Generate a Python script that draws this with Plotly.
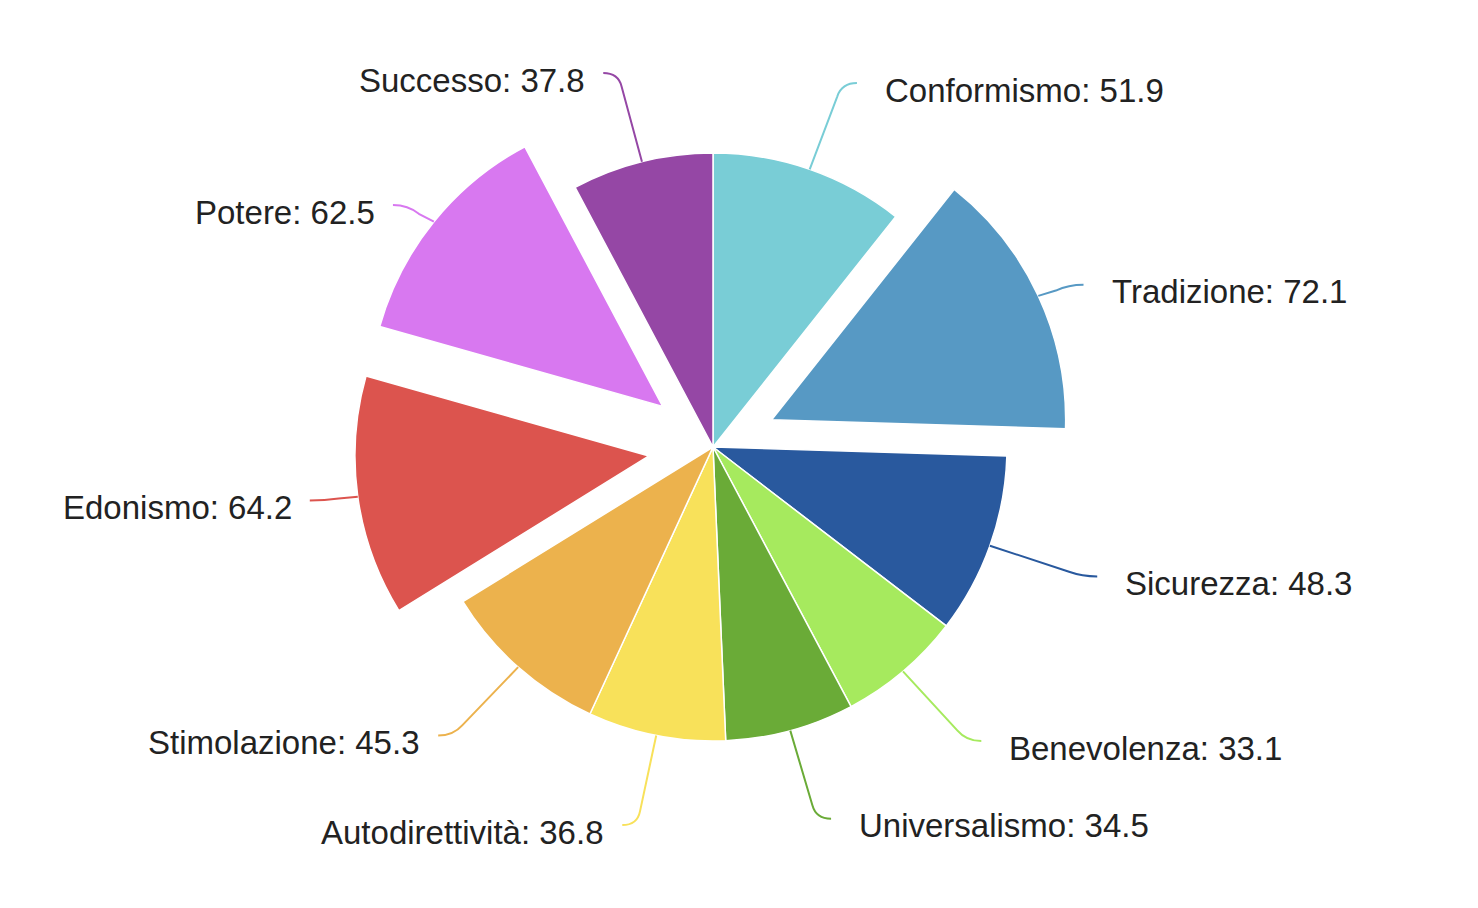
import math
import plotly.graph_objects as go

labels = ["Conformismo", "Tradizione", "Sicurezza", "Benevolenza", "Universalismo",
          "Autodirettività", "Stimolazione", "Edonismo", "Potere", "Successo"]
values = [51.9, 72.1, 48.3, 33.1, 34.5, 36.8, 45.3, 64.2, 62.5, 37.8]
colors = ["#79CDD6", "#5799C4", "#29599E", "#A6EA5E", "#6AAB37",
          "#F8E15A", "#ECB24D", "#DC544E", "#D878F0", "#9547A5"]
pulls = [0, 0.22, 0, 0, 0, 0, 0, 0.22, 0.22, 0]

W, H = 1478, 908
CX, CY, R = 705, 439, 294          # desired pie centre / radius in figure pixels
max_pull = max(pulls)
box = R * (2 + 2 * max_pull)
dom_y = [1 - (CY + box / 2) / H, 1 - (CY - box / 2) / H]
dom_x = [(CX - 450) / W, (CX + 450) / W]

fig = go.Figure(go.Pie(
    labels=labels, values=values, sort=False, direction="clockwise", rotation=0,
    pull=pulls, textinfo="none", hoverinfo="label+value",
    marker=dict(colors=colors, line=dict(color="white", width=1.5)),
    domain=dict(x=dom_x, y=dom_y), showlegend=False,
))

def px(x):
    return x / W

def py(y):
    return 1 - y / H

total = sum(values)
cum = 0.0
shapes, annots = [], []
R2 = R + 98
for lab, v, col, p in zip(labels, values, colors, pulls):
    mid = (cum + v / 2) / total * 2 * math.pi
    cum += v
    dx, dy = math.sin(mid), -math.cos(mid)
    ox, oy = CX + p * R * dx, CY + p * R * dy
    x0, y0 = ox + R * dx, oy + R * dy
    xo, yo = CX + R2 * dx, CY + R2 * 0.983 * dy
    x1, y1 = xo - 14 * dx, yo - 14 * dy
    side = 1 if dx >= 0 else -1
    x2, y2 = xo + side * 15, yo
    path = (f"M {px(x0)},{py(y0)} L {px(x1)},{py(y1)} "
            f"Q {px(xo)},{py(yo)} {px(x2)},{py(y2)}")
    shapes.append(dict(type="path", path=path, xref="paper", yref="paper",
                       line=dict(color=col, width=2)))
    gap = 26 if side > 0 else 16
    annots.append(dict(x=px(x2 + side * gap), y=py(y2 + 7), xref="paper", yref="paper",
                       text=f"{lab}: {v}", showarrow=False,
                       xanchor="left" if side > 0 else "right", yanchor="middle",
                       font=dict(family="Liberation Sans, Arial, sans-serif", size=33,
                                 color="#222222")))

fig.update_layout(width=W, height=H, margin=dict(l=0, r=0, t=0, b=0),
                  paper_bgcolor="white", plot_bgcolor="white",
                  shapes=shapes, annotations=annots)
fig.write_html("out.html")
